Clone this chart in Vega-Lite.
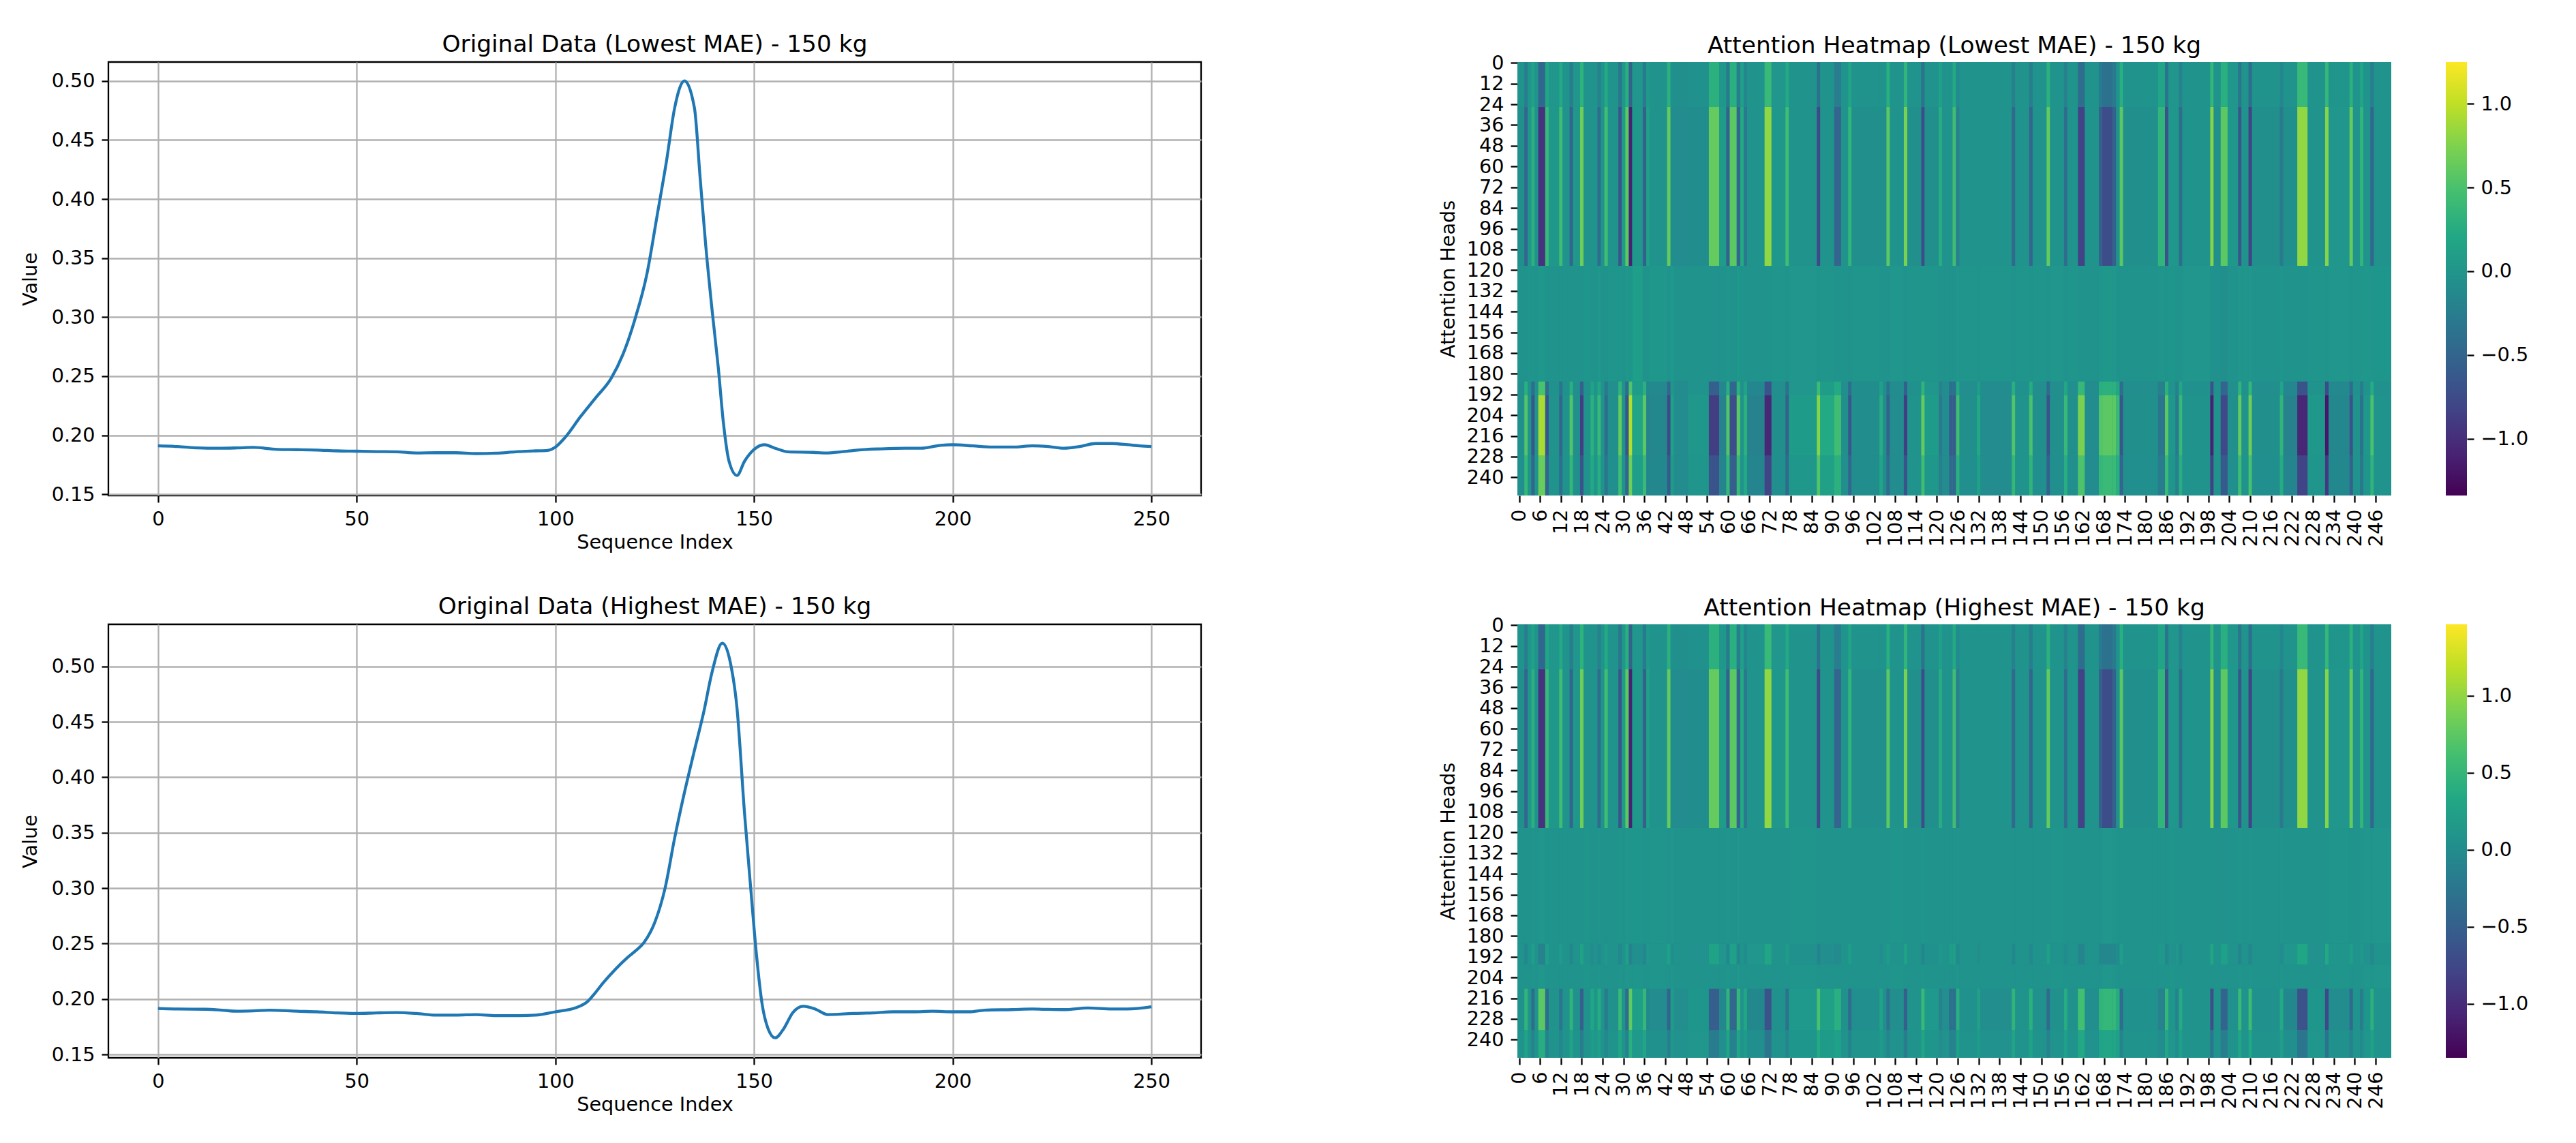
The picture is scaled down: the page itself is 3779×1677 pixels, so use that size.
{
  "$schema": "https://vega.github.io/schema/vega-lite/v6.json",
  "background": "white",
  "padding": {"left": 28, "top": 46, "right": 0, "bottom": 0},
  "config": {
    "font": "DejaVu Sans",
    "view": {"stroke": null},
    "axis": {"labelFont": "DejaVu Sans", "titleFont": "DejaVu Sans", "labelFontSize": 28.7, "titleFontSize": 28.7, "titleFontWeight": "normal", "labelColor": "black", "titleColor": "black", "tickColor": "black", "tickSize": 10, "tickWidth": 2.3, "labelPadding": 10, "labelOverlap": false},
    "title": {"font": "DejaVu Sans", "fontSize": 34.4, "fontWeight": "normal", "color": "black", "offset": 8}
  },
  "datasets": {
    "low": [
      {"i":0,"v":0.191},{"i":5,"v":0.1905},{"i":10,"v":0.1893},{"i":15,"v":0.189},{"i":20,"v":0.1893},{"i":24,"v":0.1897},{"i":30,"v":0.188},{"i":35,"v":0.1878},{"i":40,"v":0.1875},{"i":45,"v":0.1868},{"i":50,"v":0.1865},{"i":55,"v":0.1862},{"i":60,"v":0.186},{"i":65,"v":0.185},{"i":70,"v":0.1852},{"i":75,"v":0.1852},{"i":80,"v":0.1845},{"i":85,"v":0.1848},{"i":90,"v":0.186},{"i":95,"v":0.1868},{"i":98,"v":0.1872},{"i":100,"v":0.19},{"i":102.4,"v":0.198},{"i":106.3,"v":0.2157},{"i":110.2,"v":0.232},{"i":114,"v":0.248},{"i":117,"v":0.2685},{"i":120,"v":0.298},{"i":123,"v":0.336},{"i":125.6,"v":0.386},{"i":128,"v":0.433},{"i":130,"v":0.477},{"i":132.5,"v":0.5},{"i":135,"v":0.477},{"i":136.4,"v":0.419},{"i":137.8,"v":0.362},{"i":139.4,"v":0.307},{"i":141,"v":0.257},{"i":142.3,"v":0.21},{"i":143.7,"v":0.178},{"i":145.7,"v":0.166},{"i":147.6,"v":0.178},{"i":150,"v":0.188},{"i":152.6,"v":0.192},{"i":155.5,"v":0.1888},{"i":158.5,"v":0.186},{"i":165,"v":0.1855},{"i":168,"v":0.185},{"i":172,"v":0.186},{"i":176,"v":0.1875},{"i":182,"v":0.1885},{"i":188,"v":0.189},{"i":192,"v":0.189},{"i":197,"v":0.1915},{"i":200,"v":0.192},{"i":205,"v":0.191},{"i":210,"v":0.19},{"i":215,"v":0.19},{"i":220,"v":0.191},{"i":224,"v":0.1905},{"i":228,"v":0.189},{"i":232,"v":0.1905},{"i":236,"v":0.193},{"i":240,"v":0.193},{"i":244,"v":0.192},{"i":247,"v":0.191},{"i":250,"v":0.1905}
    ],
    "high": [
      {"i":0,"v":0.1915},{"i":5,"v":0.191},{"i":12,"v":0.1908},{"i":16,"v":0.19},{"i":20,"v":0.189},{"i":24,"v":0.1893},{"i":28,"v":0.19},{"i":35,"v":0.189},{"i":40,"v":0.1885},{"i":45,"v":0.1875},{"i":50,"v":0.187},{"i":55,"v":0.1875},{"i":60,"v":0.1878},{"i":65,"v":0.187},{"i":70,"v":0.1855},{"i":75,"v":0.1855},{"i":80,"v":0.186},{"i":85,"v":0.185},{"i":90,"v":0.185},{"i":95,"v":0.1855},{"i":100,"v":0.1885},{"i":105,"v":0.192},{"i":108,"v":0.1975},{"i":110,"v":0.2055},{"i":112,"v":0.2145},{"i":115,"v":0.2265},{"i":118,"v":0.237},{"i":120,"v":0.243},{"i":122.4,"v":0.2515},{"i":125,"v":0.269},{"i":127.6,"v":0.3},{"i":130,"v":0.345},{"i":132.3,"v":0.3835},{"i":134.8,"v":0.4215},{"i":137.4,"v":0.46},{"i":139.4,"v":0.4945},{"i":142,"v":0.521},{"i":144,"v":0.504},{"i":145.7,"v":0.4625},{"i":147.6,"v":0.3675},{"i":149.2,"v":0.298},{"i":150.6,"v":0.24},{"i":152,"v":0.196},{"i":153.5,"v":0.1735},{"i":155.3,"v":0.165},{"i":157.5,"v":0.1735},{"i":159.8,"v":0.188},{"i":162.4,"v":0.1935},{"i":165.4,"v":0.191},{"i":168.5,"v":0.186},{"i":175,"v":0.187},{"i":180,"v":0.1875},{"i":185,"v":0.1885},{"i":190,"v":0.1885},{"i":195,"v":0.189},{"i":200,"v":0.1885},{"i":204,"v":0.1885},{"i":208,"v":0.19},{"i":215,"v":0.1905},{"i":220,"v":0.191},{"i":228,"v":0.1905},{"i":234,"v":0.192},{"i":240,"v":0.191},{"i":244,"v":0.191},{"i":250,"v":0.193}
    ],
    "h1": [
      {"x":0,"x2":2,"t":0.08,"m":0.05,"c":0.1,"e":0.03,"b":0.05,"f":0.04},
      {"x":2,"x2":3,"t":-0.17,"m":-0.45,"c":0.08,"e":0.42,"b":0.7,"f":0.52},
      {"x":3,"x2":4,"t":0.12,"m":0.15,"c":0.11,"e":0.06,"b":0.1,"f":0.08},
      {"x":4,"x2":5,"t":0.27,"m":0.45,"c":0.13,"e":-0.36,"b":-0.6,"f":-0.45},
      {"x":5,"x2":6,"t":0.1,"m":0.1,"c":0.1,"e":0.06,"b":0.1,"f":0.08},
      {"x":6,"x2":8,"t":-0.42,"m":-0.95,"c":0.15,"e":0.66,"b":1.1,"f":0.82},
      {"x":8,"x2":9,"t":0.32,"m":0.55,"c":0.1,"e":-0.36,"b":-0.6,"f":-0.45},
      {"x":9,"x2":12,"t":0.12,"m":0.15,"c":0.09,"e":0.06,"b":0.1,"f":0.08},
      {"x":12,"x2":13,"t":0.35,"m":0.6,"c":0.08,"e":-0.27,"b":-0.45,"f":-0.34},
      {"x":13,"x2":15,"t":0.1,"m":0.1,"c":0.1,"e":0.06,"b":0.1,"f":0.08},
      {"x":15,"x2":16,"t":-0.17,"m":-0.45,"c":0.1,"e":0.42,"b":0.7,"f":0.52},
      {"x":16,"x2":18,"t":0.12,"m":0.15,"c":0.1,"e":0.03,"b":0.05,"f":0.04},
      {"x":18,"x2":19,"t":0.47,"m":0.85,"c":0.08,"e":-0.51,"b":-0.85,"f":-0.64},
      {"x":19,"x2":21,"t":0.1,"m":0.1,"c":0.13,"e":0.06,"b":0.1,"f":0.08},
      {"x":21,"x2":22,"t":0.1,"m":0.1,"c":0.1,"e":0.27,"b":0.45,"f":0.34},
      {"x":22,"x2":23,"t":0.1,"m":0.1,"c":0.1,"e":0.09,"b":0.15,"f":0.11},
      {"x":23,"x2":24,"t":-0.12,"m":-0.35,"c":0.12,"e":0.33,"b":0.55,"f":0.41},
      {"x":24,"x2":25,"t":0.1,"m":0.1,"c":0.1,"e":0.06,"b":0.1,"f":0.08},
      {"x":25,"x2":26,"t":0.35,"m":0.6,"c":0.09,"e":-0.21,"b":-0.35,"f":-0.26},
      {"x":26,"x2":29,"t":0.1,"m":0.1,"c":0.11,"e":0.03,"b":0.05,"f":0.04},
      {"x":29,"x2":30,"t":-0.25,"m":-0.6,"c":0.13,"e":0.48,"b":0.8,"f":0.6},
      {"x":30,"x2":31,"t":0.15,"m":0.2,"c":0.1,"e":0.06,"b":0.1,"f":0.08},
      {"x":31,"x2":32,"t":0.42,"m":0.75,"c":0.15,"e":-0.36,"b":-0.6,"f":-0.45},
      {"x":32,"x2":33,"t":-0.5,"m":-1.1,"c":0.13,"e":0.69,"b":1.15,"f":0.86},
      {"x":33,"x2":36,"t":0.12,"m":0.15,"c":0.22,"e":0.18,"b":0.3,"f":0.22},
      {"x":36,"x2":37,"t":-0.2,"m":-0.5,"c":0.1,"e":0.45,"b":0.75,"f":0.56},
      {"x":37,"x2":38,"t":0.17,"m":0.25,"c":0.1,"e":-0.06,"b":-0.1,"f":-0.08},
      {"x":38,"x2":43,"t":0.1,"m":0.1,"c":0.15,"e":-0.03,"b":-0.05,"f":-0.04},
      {"x":43,"x2":44,"t":0.45,"m":0.8,"c":0.1,"e":-0.45,"b":-0.75,"f":-0.56},
      {"x":44,"x2":45,"t":0.06,"m":0.02,"c":0.16,"e":0.15,"b":0.25,"f":0.19},
      {"x":45,"x2":49,"t":0.05,"m":0,"c":0.09,"e":0,"b":0,"f":0},
      {"x":49,"x2":55,"t":0.06,"m":0.02,"c":0.1,"e":0.09,"b":0.15,"f":0.11},
      {"x":55,"x2":58,"t":0.45,"m":0.8,"c":0.07,"e":-0.51,"b":-0.85,"f":-0.64},
      {"x":58,"x2":60,"t":0.15,"m":0.2,"c":0.08,"e":-0.06,"b":-0.1,"f":-0.08},
      {"x":60,"x2":61,"t":-0.2,"m":-0.5,"c":0.11,"e":0.42,"b":0.7,"f":0.52},
      {"x":61,"x2":63,"t":0.42,"m":0.75,"c":0.1,"e":-0.42,"b":-0.7,"f":-0.52},
      {"x":63,"x2":64,"t":-0.17,"m":-0.45,"c":0.14,"e":0.45,"b":0.75,"f":0.56},
      {"x":64,"x2":65,"t":0.22,"m":0.35,"c":0.1,"e":0.06,"b":0.1,"f":0.08},
      {"x":65,"x2":66,"t":-0.05,"m":-0.2,"c":0.09,"e":0.27,"b":0.45,"f":0.34},
      {"x":66,"x2":71,"t":0.1,"m":0.1,"c":0.1,"e":-0.06,"b":-0.1,"f":-0.08},
      {"x":71,"x2":73,"t":0.55,"m":1,"c":0.09,"e":-0.63,"b":-1.05,"f":-0.79},
      {"x":73,"x2":77,"t":0.12,"m":0.15,"c":0.11,"e":0.03,"b":0.05,"f":0.04},
      {"x":77,"x2":78,"t":0.35,"m":0.6,"c":0.1,"e":-0.3,"b":-0.5,"f":-0.38},
      {"x":78,"x2":86,"t":0.1,"m":0.1,"c":0.12,"e":0.12,"b":0.2,"f":0.15},
      {"x":86,"x2":87,"t":-0.32,"m":-0.75,"c":0.1,"e":0.57,"b":0.95,"f":0.71},
      {"x":87,"x2":91,"t":0.1,"m":0.1,"c":0.11,"e":0.21,"b":0.35,"f":0.26},
      {"x":91,"x2":93,"t":-0.17,"m":-0.45,"c":0.09,"e":0.36,"b":0.6,"f":0.45},
      {"x":93,"x2":95,"t":0.1,"m":0.1,"c":0.1,"e":0.03,"b":0.05,"f":0.04},
      {"x":95,"x2":96,"t":0.3,"m":0.5,"c":0.08,"e":-0.36,"b":-0.6,"f":-0.45},
      {"x":96,"x2":104,"t":0.08,"m":0.05,"c":0.11,"e":0.01,"b":0.02,"f":0.02},
      {"x":104,"x2":105,"t":0.08,"m":0.05,"c":0.1,"e":0.24,"b":0.4,"f":0.3},
      {"x":105,"x2":106,"t":0.08,"m":0.05,"c":0.1,"e":0.01,"b":0.02,"f":0.02},
      {"x":106,"x2":107,"t":0.42,"m":0.75,"c":0.1,"e":-0.3,"b":-0.5,"f":-0.38},
      {"x":107,"x2":111,"t":0.1,"m":0.1,"c":0.12,"e":0,"b":0,"f":0},
      {"x":111,"x2":112,"t":0.5,"m":0.9,"c":0.09,"e":-0.51,"b":-0.85,"f":-0.64},
      {"x":112,"x2":116,"t":0.08,"m":0.05,"c":0.11,"e":0.06,"b":0.1,"f":0.08},
      {"x":116,"x2":117,"t":-0.3,"m":-0.7,"c":0.13,"e":0.48,"b":0.8,"f":0.6},
      {"x":117,"x2":121,"t":0.08,"m":0.05,"c":0.11,"e":0.12,"b":0.2,"f":0.15},
      {"x":121,"x2":122,"t":0.25,"m":0.4,"c":0.1,"e":-0.12,"b":-0.2,"f":-0.15},
      {"x":122,"x2":124,"t":0.1,"m":0.1,"c":0.1,"e":0,"b":0,"f":0},
      {"x":124,"x2":125,"t":0.1,"m":0.1,"c":0.09,"e":-0.33,"b":-0.55,"f":-0.41},
      {"x":125,"x2":126,"t":0.35,"m":0.6,"c":0.1,"e":-0.33,"b":-0.55,"f":-0.41},
      {"x":126,"x2":127,"t":-0.02,"m":-0.15,"c":0.12,"e":0.36,"b":0.6,"f":0.45},
      {"x":127,"x2":132,"t":0.09,"m":0.08,"c":0.11,"e":0.03,"b":0.05,"f":0.04},
      {"x":132,"x2":133,"t":0.09,"m":0.08,"c":0.1,"e":0.21,"b":0.35,"f":0.26},
      {"x":133,"x2":142,"t":0.09,"m":0.08,"c":0.11,"e":0,"b":0,"f":0},
      {"x":142,"x2":143,"t":-0.15,"m":-0.4,"c":0.09,"e":0.42,"b":0.7,"f":0.52},
      {"x":143,"x2":147,"t":0.1,"m":0.1,"c":0.11,"e":0.06,"b":0.1,"f":0.08},
      {"x":147,"x2":148,"t":-0.17,"m":-0.45,"c":0.1,"e":0.39,"b":0.65,"f":0.49},
      {"x":148,"x2":152,"t":0.1,"m":0.1,"c":0.11,"e":0.03,"b":0.05,"f":0.04},
      {"x":152,"x2":153,"t":0.45,"m":0.8,"c":0.09,"e":-0.39,"b":-0.65,"f":-0.49},
      {"x":153,"x2":157,"t":0.1,"m":0.1,"c":0.12,"e":0.03,"b":0.05,"f":0.04},
      {"x":157,"x2":158,"t":-0.12,"m":-0.35,"c":0.1,"e":0.33,"b":0.55,"f":0.41},
      {"x":158,"x2":161,"t":0.1,"m":0.1,"c":0.11,"e":0.03,"b":0.05,"f":0.04},
      {"x":161,"x2":163,"t":-0.35,"m":-0.8,"c":0.1,"e":0.54,"b":0.9,"f":0.68},
      {"x":163,"x2":167,"t":0.1,"m":0.1,"c":0.09,"e":0,"b":0,"f":0},
      {"x":167,"x2":168,"t":-0.2,"m":-0.5,"c":0.11,"e":0.42,"b":0.7,"f":0.52},
      {"x":168,"x2":171,"t":-0.3,"m":-0.7,"c":0.14,"e":0.45,"b":0.75,"f":0.56},
      {"x":171,"x2":172,"t":-0.2,"m":-0.5,"c":0.12,"e":0.45,"b":0.75,"f":0.56},
      {"x":172,"x2":173,"t":0.1,"m":0.1,"c":0.08,"e":0.33,"b":0.55,"f":0.41},
      {"x":173,"x2":174,"t":0.42,"m":0.75,"c":0.1,"e":-0.36,"b":-0.6,"f":-0.45},
      {"x":174,"x2":184,"t":0.08,"m":0.05,"c":0.09,"e":0.03,"b":0.05,"f":0.04},
      {"x":184,"x2":186,"t":0.3,"m":0.5,"c":0.11,"e":-0.15,"b":-0.25,"f":-0.19},
      {"x":186,"x2":187,"t":-0.27,"m":-0.65,"c":0.1,"e":0.45,"b":0.75,"f":0.56},
      {"x":187,"x2":189,"t":0.12,"m":0.15,"c":0.13,"e":0.09,"b":0.15,"f":0.11},
      {"x":189,"x2":190,"t":0.12,"m":0.15,"c":0.1,"e":-0.12,"b":-0.2,"f":-0.15},
      {"x":190,"x2":191,"t":-0.12,"m":-0.35,"c":0.09,"e":0.33,"b":0.55,"f":0.41},
      {"x":191,"x2":199,"t":0.1,"m":0.1,"c":0.12,"e":0.06,"b":0.1,"f":0.08},
      {"x":199,"x2":200,"t":0.52,"m":0.95,"c":0.07,"e":-0.66,"b":-1.1,"f":-0.82},
      {"x":200,"x2":202,"t":0.08,"m":0.05,"c":0.06,"e":0.06,"b":0.1,"f":0.08},
      {"x":202,"x2":204,"t":0.42,"m":0.75,"c":0.05,"e":-0.45,"b":-0.75,"f":-0.56},
      {"x":204,"x2":207,"t":0.12,"m":0.15,"c":0.1,"e":0.03,"b":0.05,"f":0.04},
      {"x":207,"x2":208,"t":-0.25,"m":-0.6,"c":0.12,"e":0.48,"b":0.8,"f":0.6},
      {"x":208,"x2":210,"t":0.1,"m":0.1,"c":0.11,"e":0.06,"b":0.1,"f":0.08},
      {"x":210,"x2":211,"t":-0.35,"m":-0.8,"c":0.12,"e":0.51,"b":0.85,"f":0.64},
      {"x":211,"x2":219,"t":0.08,"m":0.05,"c":0.1,"e":0.03,"b":0.05,"f":0.04},
      {"x":219,"x2":220,"t":-0.05,"m":-0.2,"c":0.13,"e":0.3,"b":0.5,"f":0.38},
      {"x":220,"x2":224,"t":0.08,"m":0.05,"c":0.08,"e":-0.06,"b":-0.1,"f":-0.08},
      {"x":224,"x2":227,"t":0.55,"m":1,"c":0.09,"e":-0.63,"b":-1.05,"f":-0.79},
      {"x":227,"x2":232,"t":0.1,"m":0.1,"c":0.11,"e":0.09,"b":0.15,"f":0.11},
      {"x":232,"x2":233,"t":0.52,"m":0.95,"c":0.1,"e":-0.72,"b":-1.2,"f":-0.9},
      {"x":233,"x2":239,"t":0.11,"m":0.12,"c":0.12,"e":-0.03,"b":-0.05,"f":-0.04},
      {"x":239,"x2":240,"t":0.45,"m":0.8,"c":0.09,"e":-0.39,"b":-0.65,"f":-0.49},
      {"x":240,"x2":242,"t":0.1,"m":0.1,"c":0.11,"e":0.06,"b":0.1,"f":0.08},
      {"x":242,"x2":243,"t":0.3,"m":0.5,"c":0.12,"e":-0.18,"b":-0.3,"f":-0.22},
      {"x":243,"x2":245,"t":0.1,"m":0.1,"c":0.14,"e":0.09,"b":0.15,"f":0.11},
      {"x":245,"x2":246,"t":-0.17,"m":-0.45,"c":0.12,"e":0.39,"b":0.65,"f":0.49},
      {"x":246,"x2":251,"t":0.09,"m":0.08,"c":0.13,"e":0.06,"b":0.1,"f":0.08}
    ],
    "h2": [
      {"x":0,"x2":2,"t":0.08,"m":0.05,"c":0.1,"g":0.09,"s":0.06,"w":0.09},
      {"x":2,"x2":3,"t":-0.17,"m":-0.45,"c":0.08,"g":-0.04,"s":0.49,"w":0.28},
      {"x":3,"x2":4,"t":0.12,"m":0.15,"c":0.1,"g":0.08,"s":0.1,"w":0.1},
      {"x":4,"x2":5,"t":0.27,"m":0.45,"c":0.11,"g":0.22,"s":-0.36,"w":-0.11},
      {"x":5,"x2":6,"t":0.1,"m":0.1,"c":0.1,"g":0.08,"s":0.1,"w":0.1},
      {"x":6,"x2":8,"t":-0.42,"m":-0.95,"c":0.12,"g":-0.12,"s":0.75,"w":0.4},
      {"x":8,"x2":9,"t":0.32,"m":0.55,"c":0.1,"g":0.22,"s":-0.36,"w":-0.11},
      {"x":9,"x2":12,"t":0.12,"m":0.15,"c":0.09,"g":0.08,"s":0.1,"w":0.1},
      {"x":12,"x2":13,"t":0.35,"m":0.6,"c":0.08,"g":0.19,"s":-0.26,"w":-0.07},
      {"x":13,"x2":15,"t":0.1,"m":0.1,"c":0.1,"g":0.08,"s":0.1,"w":0.1},
      {"x":15,"x2":16,"t":-0.17,"m":-0.45,"c":0.1,"g":-0.04,"s":0.49,"w":0.28},
      {"x":16,"x2":18,"t":0.12,"m":0.15,"c":0.1,"g":0.09,"s":0.06,"w":0.09},
      {"x":18,"x2":19,"t":0.47,"m":0.85,"c":0.08,"g":0.27,"s":-0.52,"w":-0.19},
      {"x":19,"x2":21,"t":0.1,"m":0.1,"c":0.11,"g":0.08,"s":0.1,"w":0.1},
      {"x":21,"x2":22,"t":0.1,"m":0.1,"c":0.1,"g":0.01,"s":0.32,"w":0.2},
      {"x":22,"x2":23,"t":0.1,"m":0.1,"c":0.1,"g":0.07,"s":0.13,"w":0.12},
      {"x":23,"x2":24,"t":-0.12,"m":-0.35,"c":0.11,"g":-0.01,"s":0.39,"w":0.24},
      {"x":24,"x2":25,"t":0.1,"m":0.1,"c":0.1,"g":0.08,"s":0.1,"w":0.1},
      {"x":25,"x2":26,"t":0.35,"m":0.6,"c":0.09,"g":0.17,"s":-0.2,"w":-0.04},
      {"x":26,"x2":29,"t":0.1,"m":0.1,"c":0.1,"g":0.09,"s":0.06,"w":0.09},
      {"x":29,"x2":30,"t":-0.25,"m":-0.6,"c":0.11,"g":-0.06,"s":0.55,"w":0.31},
      {"x":30,"x2":31,"t":0.15,"m":0.2,"c":0.1,"g":0.08,"s":0.1,"w":0.1},
      {"x":31,"x2":32,"t":0.42,"m":0.75,"c":0.12,"g":0.22,"s":-0.36,"w":-0.11},
      {"x":32,"x2":33,"t":-0.5,"m":-1.1,"c":0.11,"g":-0.13,"s":0.78,"w":0.42},
      {"x":33,"x2":36,"t":0.12,"m":0.15,"c":0.13,"g":0.04,"s":0.23,"w":0.16},
      {"x":36,"x2":37,"t":-0.2,"m":-0.5,"c":0.1,"g":-0.05,"s":0.52,"w":0.3},
      {"x":37,"x2":38,"t":0.17,"m":0.25,"c":0.1,"g":0.12,"s":-0.04,"w":0.04},
      {"x":38,"x2":43,"t":0.1,"m":0.1,"c":0.11,"g":0.11,"s":0,"w":0.06},
      {"x":43,"x2":44,"t":0.45,"m":0.8,"c":0.1,"g":0.25,"s":-0.46,"w":-0.16},
      {"x":44,"x2":45,"t":0.06,"m":0.02,"c":0.12,"g":0.05,"s":0.19,"w":0.15},
      {"x":45,"x2":49,"t":0.05,"m":0,"c":0.09,"g":0.1,"s":0.03,"w":0.07},
      {"x":49,"x2":55,"t":0.06,"m":0.02,"c":0.1,"g":0.07,"s":0.13,"w":0.12},
      {"x":55,"x2":58,"t":0.45,"m":0.8,"c":0.08,"g":0.27,"s":-0.52,"w":-0.19},
      {"x":58,"x2":60,"t":0.15,"m":0.2,"c":0.08,"g":0.12,"s":-0.04,"w":0.04},
      {"x":60,"x2":61,"t":-0.2,"m":-0.5,"c":0.11,"g":-0.04,"s":0.49,"w":0.28},
      {"x":61,"x2":63,"t":0.42,"m":0.75,"c":0.1,"g":0.24,"s":-0.43,"w":-0.14},
      {"x":63,"x2":64,"t":-0.17,"m":-0.45,"c":0.12,"g":-0.05,"s":0.52,"w":0.3},
      {"x":64,"x2":65,"t":0.22,"m":0.35,"c":0.1,"g":0.08,"s":0.1,"w":0.1},
      {"x":65,"x2":66,"t":-0.05,"m":-0.2,"c":0.09,"g":0.01,"s":0.32,"w":0.2},
      {"x":66,"x2":71,"t":0.1,"m":0.1,"c":0.1,"g":0.12,"s":-0.04,"w":0.04},
      {"x":71,"x2":73,"t":0.55,"m":1,"c":0.09,"g":0.31,"s":-0.65,"w":-0.25},
      {"x":73,"x2":77,"t":0.12,"m":0.15,"c":0.1,"g":0.09,"s":0.06,"w":0.09},
      {"x":77,"x2":78,"t":0.35,"m":0.6,"c":0.1,"g":0.2,"s":-0.3,"w":-0.08},
      {"x":78,"x2":86,"t":0.1,"m":0.1,"c":0.11,"g":0.06,"s":0.16,"w":0.13},
      {"x":86,"x2":87,"t":-0.32,"m":-0.75,"c":0.1,"g":-0.09,"s":0.65,"w":0.36},
      {"x":87,"x2":91,"t":0.1,"m":0.1,"c":0.1,"g":0.03,"s":0.26,"w":0.18},
      {"x":91,"x2":93,"t":-0.17,"m":-0.45,"c":0.09,"g":-0.02,"s":0.42,"w":0.25},
      {"x":93,"x2":95,"t":0.1,"m":0.1,"c":0.1,"g":0.09,"s":0.06,"w":0.09},
      {"x":95,"x2":96,"t":0.3,"m":0.5,"c":0.08,"g":0.22,"s":-0.36,"w":-0.11},
      {"x":96,"x2":104,"t":0.08,"m":0.05,"c":0.1,"g":0.1,"s":0.04,"w":0.08},
      {"x":104,"x2":105,"t":0.08,"m":0.05,"c":0.1,"g":0.02,"s":0.29,"w":0.19},
      {"x":105,"x2":106,"t":0.08,"m":0.05,"c":0.1,"g":0.1,"s":0.04,"w":0.08},
      {"x":106,"x2":107,"t":0.42,"m":0.75,"c":0.1,"g":0.2,"s":-0.3,"w":-0.08},
      {"x":107,"x2":111,"t":0.1,"m":0.1,"c":0.11,"g":0.1,"s":0.03,"w":0.07},
      {"x":111,"x2":112,"t":0.5,"m":0.9,"c":0.09,"g":0.27,"s":-0.52,"w":-0.19},
      {"x":112,"x2":116,"t":0.08,"m":0.05,"c":0.1,"g":0.08,"s":0.1,"w":0.1},
      {"x":116,"x2":117,"t":-0.3,"m":-0.7,"c":0.11,"g":-0.06,"s":0.55,"w":0.31},
      {"x":117,"x2":121,"t":0.08,"m":0.05,"c":0.1,"g":0.06,"s":0.16,"w":0.13},
      {"x":121,"x2":122,"t":0.25,"m":0.4,"c":0.1,"g":0.14,"s":-0.1,"w":0.01},
      {"x":122,"x2":124,"t":0.1,"m":0.1,"c":0.1,"g":0.1,"s":0.03,"w":0.07},
      {"x":124,"x2":125,"t":0.1,"m":0.1,"c":0.09,"g":0.21,"s":-0.33,"w":-0.1},
      {"x":125,"x2":126,"t":0.35,"m":0.6,"c":0.1,"g":0.21,"s":-0.33,"w":-0.1},
      {"x":126,"x2":127,"t":-0.02,"m":-0.15,"c":0.11,"g":-0.02,"s":0.42,"w":0.25},
      {"x":127,"x2":132,"t":0.09,"m":0.08,"c":0.1,"g":0.09,"s":0.06,"w":0.09},
      {"x":132,"x2":133,"t":0.09,"m":0.08,"c":0.1,"g":0.03,"s":0.26,"w":0.18},
      {"x":133,"x2":142,"t":0.09,"m":0.08,"c":0.1,"g":0.1,"s":0.03,"w":0.07},
      {"x":142,"x2":143,"t":-0.15,"m":-0.4,"c":0.09,"g":-0.04,"s":0.49,"w":0.28},
      {"x":143,"x2":147,"t":0.1,"m":0.1,"c":0.1,"g":0.08,"s":0.1,"w":0.1},
      {"x":147,"x2":148,"t":-0.17,"m":-0.45,"c":0.1,"g":-0.03,"s":0.45,"w":0.27},
      {"x":148,"x2":152,"t":0.1,"m":0.1,"c":0.1,"g":0.09,"s":0.06,"w":0.09},
      {"x":152,"x2":153,"t":0.45,"m":0.8,"c":0.09,"g":0.23,"s":-0.39,"w":-0.13},
      {"x":153,"x2":157,"t":0.1,"m":0.1,"c":0.11,"g":0.09,"s":0.06,"w":0.09},
      {"x":157,"x2":158,"t":-0.12,"m":-0.35,"c":0.1,"g":-0.01,"s":0.39,"w":0.24},
      {"x":158,"x2":161,"t":0.1,"m":0.1,"c":0.1,"g":0.09,"s":0.06,"w":0.09},
      {"x":161,"x2":163,"t":-0.35,"m":-0.8,"c":0.1,"g":-0.08,"s":0.62,"w":0.34},
      {"x":163,"x2":167,"t":0.1,"m":0.1,"c":0.09,"g":0.1,"s":0.03,"w":0.07},
      {"x":167,"x2":168,"t":-0.2,"m":-0.5,"c":0.1,"g":-0.04,"s":0.49,"w":0.28},
      {"x":168,"x2":171,"t":-0.3,"m":-0.7,"c":0.12,"g":-0.05,"s":0.52,"w":0.3},
      {"x":171,"x2":172,"t":-0.2,"m":-0.5,"c":0.11,"g":-0.05,"s":0.52,"w":0.3},
      {"x":172,"x2":173,"t":0.1,"m":0.1,"c":0.08,"g":-0.01,"s":0.39,"w":0.24},
      {"x":173,"x2":174,"t":0.42,"m":0.75,"c":0.1,"g":0.22,"s":-0.36,"w":-0.11},
      {"x":174,"x2":184,"t":0.08,"m":0.05,"c":0.09,"g":0.09,"s":0.06,"w":0.09},
      {"x":184,"x2":186,"t":0.3,"m":0.5,"c":0.1,"g":0.15,"s":-0.13,"w":0},
      {"x":186,"x2":187,"t":-0.27,"m":-0.65,"c":0.1,"g":-0.05,"s":0.52,"w":0.3},
      {"x":187,"x2":189,"t":0.12,"m":0.15,"c":0.11,"g":0.07,"s":0.13,"w":0.12},
      {"x":189,"x2":190,"t":0.12,"m":0.15,"c":0.1,"g":0.14,"s":-0.1,"w":0.01},
      {"x":190,"x2":191,"t":-0.12,"m":-0.35,"c":0.09,"g":-0.01,"s":0.39,"w":0.24},
      {"x":191,"x2":199,"t":0.1,"m":0.1,"c":0.1,"g":0.08,"s":0.1,"w":0.1},
      {"x":199,"x2":200,"t":0.52,"m":0.95,"c":0.08,"g":0.32,"s":-0.69,"w":-0.26},
      {"x":200,"x2":202,"t":0.08,"m":0.05,"c":0.08,"g":0.08,"s":0.1,"w":0.1},
      {"x":202,"x2":204,"t":0.42,"m":0.75,"c":0.07,"g":0.25,"s":-0.46,"w":-0.16},
      {"x":204,"x2":207,"t":0.12,"m":0.15,"c":0.1,"g":0.09,"s":0.06,"w":0.09},
      {"x":207,"x2":208,"t":-0.25,"m":-0.6,"c":0.11,"g":-0.06,"s":0.55,"w":0.31},
      {"x":208,"x2":210,"t":0.1,"m":0.1,"c":0.1,"g":0.08,"s":0.1,"w":0.1},
      {"x":210,"x2":211,"t":-0.35,"m":-0.8,"c":0.11,"g":-0.07,"s":0.58,"w":0.33},
      {"x":211,"x2":219,"t":0.08,"m":0.05,"c":0.1,"g":0.09,"s":0.06,"w":0.09},
      {"x":219,"x2":220,"t":-0.05,"m":-0.2,"c":0.11,"g":0,"s":0.35,"w":0.22},
      {"x":220,"x2":224,"t":0.08,"m":0.05,"c":0.09,"g":0.12,"s":-0.04,"w":0.04},
      {"x":224,"x2":227,"t":0.55,"m":1,"c":0.09,"g":0.31,"s":-0.65,"w":-0.25},
      {"x":227,"x2":232,"t":0.1,"m":0.1,"c":0.1,"g":0.07,"s":0.13,"w":0.12},
      {"x":232,"x2":233,"t":0.52,"m":0.95,"c":0.1,"g":0.34,"s":-0.75,"w":-0.29},
      {"x":233,"x2":239,"t":0.11,"m":0.12,"c":0.11,"g":0.11,"s":0,"w":0.06},
      {"x":239,"x2":240,"t":0.45,"m":0.8,"c":0.09,"g":0.23,"s":-0.39,"w":-0.13},
      {"x":240,"x2":242,"t":0.1,"m":0.1,"c":0.1,"g":0.08,"s":0.1,"w":0.1},
      {"x":242,"x2":243,"t":0.3,"m":0.5,"c":0.11,"g":0.16,"s":-0.17,"w":-0.02},
      {"x":243,"x2":245,"t":0.1,"m":0.1,"c":0.12,"g":0.07,"s":0.13,"w":0.12},
      {"x":245,"x2":246,"t":-0.17,"m":-0.45,"c":0.11,"g":-0.03,"s":0.45,"w":0.27},
      {"x":246,"x2":251,"t":0.09,"m":0.08,"c":0.12,"g":0.08,"s":0.1,"w":0.1}
    ],
    "bar1": [{"lo":-1.34,"hi":1.25}],
    "bar2": [{"lo":-1.351,"hi":1.464}]
  },
  "vconcat": [
    {
      "spacing": 346,
      "hconcat": [
        {
          "title": "Original Data (Lowest MAE) - 150 kg",
          "width": 1603,
          "height": 636,
          "view": {"stroke": "black", "strokeWidth": 2.3},
          "data": {"name": "low"},
          "mark": {"type": "line", "color": "#1f77b4", "strokeWidth": 4.3, "interpolate": "monotone"},
          "encoding": {
            "x": {"field": "i", "type": "quantitative", "title": "Sequence Index", "scale": {"domain": [-12.5, 262.5], "nice": false, "zero": false}, "axis": {"values": [0, 50, 100, 150, 200, 250], "domain": false, "grid": true, "gridColor": "#b0b0b0", "gridWidth": 2.3, "titlePadding": 6}},
            "y": {"field": "v", "type": "quantitative", "title": "Value", "scale": {"domain": [0.149, 0.516], "nice": false, "zero": false}, "axis": {"values": [0.15, 0.2, 0.25, 0.3, 0.35, 0.4, 0.45, 0.5], "format": ".2f", "domain": false, "grid": true, "gridColor": "#b0b0b0", "gridWidth": 2.3, "titlePadding": 16}}
          }
        },
        {
          "spacing": 80,
          "hconcat": [
            {
              "title": {"text": "Attention Heatmap (Lowest MAE) - 150 kg", "offset": -7},
              "width": 1282,
              "height": 636,
              "view": {"fill": "#21918c"},
              "data": {"name": "h1"},
              "encoding": {
                "x": {"field": "x", "type": "quantitative", "title": null, "scale": {"domain": [0, 251], "nice": false, "zero": false}, "axis": {"values": [0.5,6.5,12.5,18.5,24.5,30.5,36.5,42.5,48.5,54.5,60.5,66.5,72.5,78.5,84.5,90.5,96.5,102.5,108.5,114.5,120.5,126.5,132.5,138.5,144.5,150.5,156.5,162.5,168.5,174.5,180.5,186.5,192.5,198.5,204.5,210.5,216.5,222.5,228.5,234.5,240.5,246.5], "labelExpr": "floor(datum.value)", "labelAngle": 270, "labelAlign": "right", "labelBaseline": "middle", "labelOverlap": false, "domain": false, "grid": false}},
                "x2": {"field": "x2"}
              },
              "layer": [
                {"mark": "rect", "encoding": {
                  "y": {"datum": 0, "type": "quantitative", "scale": {"domain": [0, 251], "nice": false, "zero": false, "reverse": true}, "axis": {"title": "Attention Heads", "values": [0.5,12.5,24.5,36.5,48.5,60.5,72.5,84.5,96.5,108.5,120.5,132.5,144.5,156.5,168.5,180.5,192.5,204.5,216.5,228.5,240.5], "tickCount": 30, "labelExpr": "floor(datum.value)", "labelOverlap": false, "domain": false, "grid": false, "titlePadding": 12}},
                  "y2": {"datum": 26},
                  "color": {"field": "t", "type": "quantitative", "scale": {"scheme": "viridis", "domain": [-1.34, 1.25]}, "legend": null}
                }},
                {"mark": "rect", "encoding": {"y": {"datum": 26, "type": "quantitative"}, "y2": {"datum": 118}, "color": {"field": "m", "type": "quantitative"}}},
                {"mark": "rect", "encoding": {"y": {"datum": 118, "type": "quantitative"}, "y2": {"datum": 185}, "color": {"field": "c", "type": "quantitative"}}},
                {"mark": "rect", "encoding": {"y": {"datum": 185, "type": "quantitative"}, "y2": {"datum": 193}, "color": {"field": "e", "type": "quantitative"}}},
                {"mark": "rect", "encoding": {"y": {"datum": 193, "type": "quantitative"}, "y2": {"datum": 228}, "color": {"field": "b", "type": "quantitative"}}},
                {"mark": "rect", "encoding": {"y": {"datum": 228, "type": "quantitative"}, "y2": {"datum": 251}, "color": {"field": "f", "type": "quantitative"}}}
              ]
            },
            {
              "width": 31,
              "height": 636,
              "data": {"name": "bar1"},
              "mark": {"type": "rect", "color": {"gradient": "linear", "x1": 0, "y1": 1, "x2": 0, "y2": 0, "stops": [{"offset": 0, "color": "#440154"}, {"offset": 0.1, "color": "#482475"}, {"offset": 0.2, "color": "#414487"}, {"offset": 0.3, "color": "#355f8d"}, {"offset": 0.4, "color": "#2a788e"}, {"offset": 0.5, "color": "#21918c"}, {"offset": 0.6, "color": "#22a884"}, {"offset": 0.7, "color": "#44bf70"}, {"offset": 0.8, "color": "#7ad151"}, {"offset": 0.9, "color": "#bddf26"}, {"offset": 1, "color": "#fde725"}]}},
              "encoding": {
                "y": {"field": "lo", "type": "quantitative", "title": null, "scale": {"domain": [-1.34, 1.25], "nice": false, "zero": false}, "axis": {"orient": "right", "values": [-1, -0.5, 0, 0.5, 1], "format": ".1f", "domain": false, "grid": false}},
                "y2": {"field": "hi"}
              }
            }
          ]
        }
      ]
    },
    {
      "spacing": 346,
      "hconcat": [
        {
          "title": "Original Data (Highest MAE) - 150 kg",
          "width": 1603,
          "height": 636,
          "view": {"stroke": "black", "strokeWidth": 2.3},
          "data": {"name": "high"},
          "mark": {"type": "line", "color": "#1f77b4", "strokeWidth": 4.3, "interpolate": "monotone"},
          "encoding": {
            "x": {"field": "i", "type": "quantitative", "title": "Sequence Index", "scale": {"domain": [-12.5, 262.5], "nice": false, "zero": false}, "axis": {"values": [0, 50, 100, 150, 200, 250], "domain": false, "grid": true, "gridColor": "#b0b0b0", "gridWidth": 2.3, "titlePadding": 6}},
            "y": {"field": "v", "type": "quantitative", "title": "Value", "scale": {"domain": [0.147, 0.538], "nice": false, "zero": false}, "axis": {"values": [0.15, 0.2, 0.25, 0.3, 0.35, 0.4, 0.45, 0.5], "format": ".2f", "domain": false, "grid": true, "gridColor": "#b0b0b0", "gridWidth": 2.3, "titlePadding": 16}}
          }
        },
        {
          "spacing": 80,
          "hconcat": [
            {
              "title": {"text": "Attention Heatmap (Highest MAE) - 150 kg", "offset": -7},
              "width": 1282,
              "height": 636,
              "view": {"fill": "#21918c"},
              "data": {"name": "h2"},
              "encoding": {
                "x": {"field": "x", "type": "quantitative", "title": null, "scale": {"domain": [0, 251], "nice": false, "zero": false}, "axis": {"values": [0.5,6.5,12.5,18.5,24.5,30.5,36.5,42.5,48.5,54.5,60.5,66.5,72.5,78.5,84.5,90.5,96.5,102.5,108.5,114.5,120.5,126.5,132.5,138.5,144.5,150.5,156.5,162.5,168.5,174.5,180.5,186.5,192.5,198.5,204.5,210.5,216.5,222.5,228.5,234.5,240.5,246.5], "labelExpr": "floor(datum.value)", "labelAngle": 270, "labelAlign": "right", "labelBaseline": "middle", "labelOverlap": false, "domain": false, "grid": false}},
                "x2": {"field": "x2"}
              },
              "layer": [
                {"mark": "rect", "encoding": {
                  "y": {"datum": 0, "type": "quantitative", "scale": {"domain": [0, 251], "nice": false, "zero": false, "reverse": true}, "axis": {"title": "Attention Heads", "values": [0.5,12.5,24.5,36.5,48.5,60.5,72.5,84.5,96.5,108.5,120.5,132.5,144.5,156.5,168.5,180.5,192.5,204.5,216.5,228.5,240.5], "tickCount": 30, "labelExpr": "floor(datum.value)", "labelOverlap": false, "domain": false, "grid": false, "titlePadding": 12}},
                  "y2": {"datum": 26},
                  "color": {"field": "t", "type": "quantitative", "scale": {"scheme": "viridis", "domain": [-1.351, 1.464]}, "legend": null}
                }},
                {"mark": "rect", "encoding": {"y": {"datum": 26, "type": "quantitative"}, "y2": {"datum": 118}, "color": {"field": "m", "type": "quantitative"}}},
                {"mark": "rect", "encoding": {"y": {"datum": 118, "type": "quantitative"}, "y2": {"datum": 185}, "color": {"field": "c", "type": "quantitative"}}},
                {"mark": "rect", "encoding": {"y": {"datum": 185, "type": "quantitative"}, "y2": {"datum": 197}, "color": {"field": "g", "type": "quantitative"}}},
                {"mark": "rect", "encoding": {"y": {"datum": 197, "type": "quantitative"}, "y2": {"datum": 211}, "color": {"field": "c", "type": "quantitative"}}},
                {"mark": "rect", "encoding": {"y": {"datum": 211, "type": "quantitative"}, "y2": {"datum": 235}, "color": {"field": "s", "type": "quantitative"}}},
                {"mark": "rect", "encoding": {"y": {"datum": 235, "type": "quantitative"}, "y2": {"datum": 251}, "color": {"field": "w", "type": "quantitative"}}}
              ]
            },
            {
              "width": 31,
              "height": 636,
              "data": {"name": "bar2"},
              "mark": {"type": "rect", "color": {"gradient": "linear", "x1": 0, "y1": 1, "x2": 0, "y2": 0, "stops": [{"offset": 0, "color": "#440154"}, {"offset": 0.1, "color": "#482475"}, {"offset": 0.2, "color": "#414487"}, {"offset": 0.3, "color": "#355f8d"}, {"offset": 0.4, "color": "#2a788e"}, {"offset": 0.5, "color": "#21918c"}, {"offset": 0.6, "color": "#22a884"}, {"offset": 0.7, "color": "#44bf70"}, {"offset": 0.8, "color": "#7ad151"}, {"offset": 0.9, "color": "#bddf26"}, {"offset": 1, "color": "#fde725"}]}},
              "encoding": {
                "y": {"field": "lo", "type": "quantitative", "title": null, "scale": {"domain": [-1.351, 1.464], "nice": false, "zero": false}, "axis": {"orient": "right", "values": [-1, -0.5, 0, 0.5, 1], "format": ".1f", "domain": false, "grid": false}},
                "y2": {"field": "hi"}
              }
            }
          ]
        }
      ]
    }
  ],
  "spacing": 59
}
